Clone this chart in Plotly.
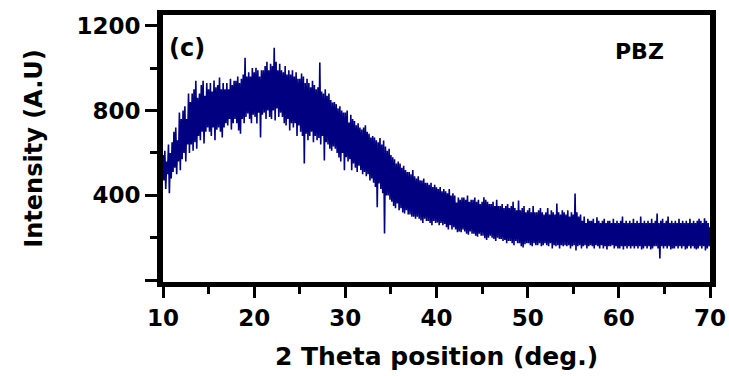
import numpy as np
import plotly.graph_objects as go

# 2-theta scan grid (0.1 deg step, 10-70 deg)
two_theta = np.round(np.arange(10.0, 70.0001, 0.1), 1)

# Measured intensity (a.u.), ten readings per degree
intensity = [
    590, 470, 610, 430, 560, 500, 640, 410, 600, 480,     # 10
    650, 510, 700, 530, 720, 500, 660, 560, 790, 518,     # 11
    760, 570, 800, 600, 820, 560, 760, 640, 880, 600,     # 12
    840, 640, 880, 610, 900, 650, 940, 620, 860, 680,     # 13
    880, 660, 920, 700, 940, 645, 870, 700, 930, 720,     # 14
    900, 700, 930, 680, 890, 720, 941, 660, 910, 710,     # 15
    920, 720, 955, 700, 900, 673, 930, 720, 900, 740,     # 16
    930, 730, 900, 760, 950, 710, 920, 740, 940, 760,     # 17
    940, 740, 960, 706, 930, 690, 950, 760, 970, 740,     # 18
    1049, 770, 960, 786, 980, 760, 960, 740, 1000, 780,   # 19
    980, 770, 1002, 739, 990, 790, 960, 673, 990, 780,    # 20
    990, 790, 1010, 760, 1030, 800, 990, 770, 1020, 760,  # 21
    1010, 800, 1096, 753, 1030, 810, 990, 770, 1020, 790, # 22
    990, 770, 980, 740, 1010, 730, 970, 760, 990, 706,    # 23
    970, 740, 990, 720, 960, 740, 980, 680, 950, 730,     # 24
    950, 700, 974, 680, 960, 550, 930, 690, 950, 660,     # 25
    930, 680, 910, 700, 940, 650, 920, 680, 900, 660,     # 26
    910, 670, 1026, 640, 890, 680, 880, 565, 900, 650,    # 27
    870, 640, 880, 620, 850, 610, 838, 630, 840, 620,     # 28
    830, 600, 810, 579, 820, 560, 800, 600, 790, 518,     # 29
    790, 580, 800, 560, 743, 570, 780, 518, 760, 550,     # 30
    750, 530, 730, 510, 740, 540, 720, 520, 710, 500,     # 31
    720, 510, 730, 490, 700, 500, 690, 470, 673, 480,     # 32
    680, 460, 673, 440, 660, 344, 650, 456, 670, 430,     # 33
    640, 410, 659, 221, 630, 400, 610, 400, 620, 380,     # 34
    590, 370, 580, 350, 570, 340, 550, 362, 560, 330,     # 35
    550, 340, 530, 320, 540, 315, 520, 330, 510, 310,     # 36
    510, 310, 500, 300, 520, 300, 490, 290, 480, 300,     # 37
    490, 290, 471, 282, 470, 270, 480, 290, 460, 280,     # 38
    460, 280, 450, 270, 460, 260, 440, 280, 450, 270,     # 39
    438, 273, 430, 260, 440, 270, 420, 260, 430, 265,     # 40
    420, 250, 410, 240, 430, 260, 400, 240, 410, 250,     # 41
    400, 240, 367, 226, 390, 230, 380, 226, 390, 240,     # 42
    390, 230, 380, 220, 400, 215, 370, 230, 380, 220,     # 43
    380, 220, 390, 210, 370, 205, 380, 220, 360, 210,     # 44
    370, 210, 391, 198, 380, 190, 370, 200, 360, 210,     # 45
    360, 200, 370, 195, 350, 185, 380, 200, 350, 195,     # 46
    350, 195, 360, 185, 340, 190, 350, 175, 360, 185,     # 47
    340, 185, 350, 175, 370, 165, 340, 185, 330, 175,     # 48
    376, 175, 330, 160, 340, 155, 350, 170, 320, 175,     # 49
    330, 175, 340, 165, 320, 160, 350, 175, 320, 165,     # 50
    320, 165, 330, 175, 340, 160, 320, 165, 310, 175,     # 51
    320, 165, 340, 160, 310, 175, 330, 150, 320, 165,     # 52
    310, 160, 362, 165, 320, 150, 310, 165, 330, 160,     # 53
    320, 165, 310, 160, 330, 165, 300, 150, 320, 160,     # 54
    310, 165, 409, 141, 320, 160, 300, 165, 310, 150,     # 55
    280, 160, 300, 165, 270, 150, 290, 160, 280, 165,     # 56
    280, 160, 290, 150, 270, 165, 297, 160, 280, 150,     # 57
    270, 165, 280, 150, 290, 160, 270, 145, 280, 160,     # 58
    280, 160, 270, 165, 290, 150, 270, 160, 280, 150,     # 59
    270, 150, 280, 160, 300, 145, 270, 160, 280, 150,     # 60
    270, 160, 280, 150, 270, 160, 290, 150, 270, 160,     # 61
    280, 150, 270, 160, 300, 145, 270, 150, 280, 160,     # 62
    270, 150, 280, 160, 270, 145, 290, 150, 270, 160,     # 63
    280, 160, 315, 150, 270, 103, 280, 160, 290, 150,     # 64
    270, 160, 280, 150, 300, 160, 270, 145, 280, 150,     # 65
    270, 150, 280, 160, 270, 150, 290, 160, 270, 150,     # 66
    280, 160, 270, 145, 280, 150, 270, 160, 290, 150,     # 67
    270, 160, 280, 150, 270, 145, 280, 150, 290, 160,     # 68
    280, 150, 270, 160, 292, 141, 280, 150, 270, 160,     # 69
    250,                                                  # 70
]

x_ticks = [10, 20, 30, 40, 50, 60, 70]
y_ticks = [0, 400, 800, 1200]
y_tick_text = ["", "400", "800", "1200"]

FONT = "DejaVu Sans"

fig = go.Figure()
fig.add_trace(go.Scatter(
    x=two_theta, y=intensity, mode="lines",
    line=dict(color="#000080", width=1.6),
    showlegend=False, hoverinfo="skip",
))

fig.update_layout(
    width=729, height=376,
    margin=dict(l=163, r=19, t=15, b=94),
    paper_bgcolor="white", plot_bgcolor="white",
    font=dict(family=FONT, color="black"),
    xaxis=dict(
        range=[10, 70], automargin=False,
        tickvals=x_ticks,
        ticks="outside", ticklen=11, tickwidth=3, tickcolor="black",
        minor=dict(dtick=5, tick0=10, ticks="outside", ticklen=7, tickwidth=3, tickcolor="black"),
        showline=True, linewidth=5, linecolor="black", mirror=True,
        showgrid=False, zeroline=False,
        tickfont=dict(family=FONT, size=23, color="black", weight="bold"),
        title=dict(text="2 Theta position (deg.)", standoff=19,
                   font=dict(family=FONT, size=25, color="black", weight="bold")),
    ),
    yaxis=dict(
        range=[-8, 1250], automargin=False,
        tickvals=y_ticks, ticktext=y_tick_text,
        ticks="outside", ticklen=12, tickwidth=3, tickcolor="black",
        minor=dict(dtick=200, tick0=0, ticks="outside", ticklen=7, tickwidth=3, tickcolor="black"),
        showline=True, linewidth=6, linecolor="black", mirror=True,
        showgrid=False, zeroline=False,
        tickfont=dict(family=FONT, size=23, color="black", weight="bold"),
        title=dict(text="Intensity (A.U)", standoff=29,
                   font=dict(family=FONT, size=24, color="black", weight="bold")),
    ),
    annotations=[
        dict(text="(c)", xref="paper", yref="paper", x=0.0435, y=0.875,
             xanchor="center", yanchor="middle", showarrow=False,
             font=dict(family=FONT, size=24, color="black", weight="bold")),
        dict(text="PBZ", xref="paper", yref="paper", x=0.872, y=0.865,
             xanchor="center", yanchor="middle", showarrow=False,
             font=dict(family=FONT, size=22, color="black", weight="bold")),
    ],
)

fig.write_html("out.html")
